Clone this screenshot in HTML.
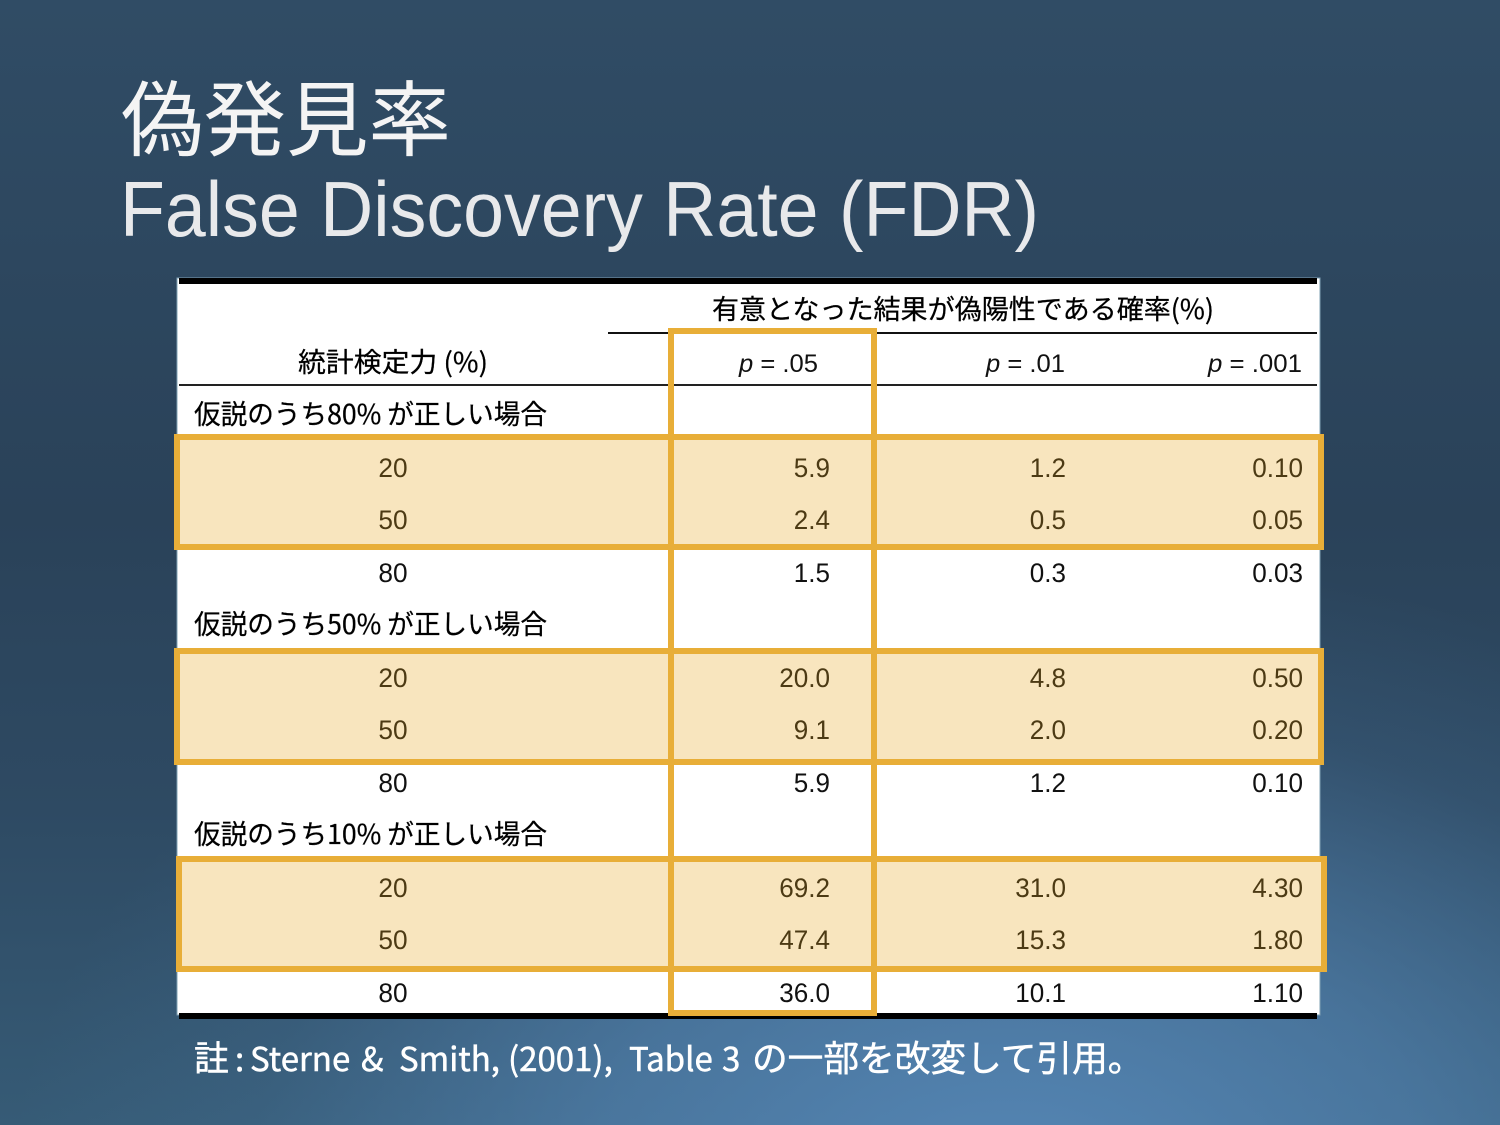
<!DOCTYPE html>
<html lang="ja">
<head>
<meta charset="utf-8">
<title>偽発見率 False Discovery Rate (FDR)</title>
<style>
html,body{margin:0;padding:0;width:1500px;height:1125px;overflow:hidden;background:#2f4c65;}
#slide{position:absolute;left:0;top:0;width:1500px;height:1125px;background:
  radial-gradient(ellipse 1000px 640px at 1010px 1185px,rgba(85,134,181,1) 0%,rgba(85,134,181,.62) 42%,rgba(85,134,181,.14) 76%,rgba(85,134,181,0) 100%),
  linear-gradient(180deg,#304c65 0%,#2a4259 46%,#2e4a63 72%,#365b76 100%);}
svg{position:absolute;left:0;top:0;}
text{font-family:"Liberation Sans","Noto Sans CJK JP",sans-serif;}
.jp{font-family:"Noto Sans CJK JP","Liberation Sans",sans-serif;}
</style>
</head>
<body>
<div id="slide">
<svg id="chart" width="1500" height="1125" viewBox="0 0 1500 1125" xmlns="http://www.w3.org/2000/svg">
  <text class="jp" x="121" y="149" font-size="82" fill="#f4f4f4" textLength="330" lengthAdjust="spacingAndGlyphs">偽発見率</text>
  <text x="120" y="236" font-size="78" fill="#e8e9eb" textLength="919" lengthAdjust="spacingAndGlyphs">False Discovery Rate (FDR)</text>

  <rect x="177" y="278" width="1143" height="737" fill="#ffffff" stroke="#7fa0b3" stroke-width="1"/>
  <rect x="179" y="278" width="1138" height="6" fill="#000000"/>
  <rect x="179" y="1013" width="1138" height="6" fill="#000000"/>
  <rect x="608" y="332" width="709" height="2" fill="#111111"/>
  <rect x="179" y="384" width="1138" height="2" fill="#222222"/>

  <rect x="177" y="437" width="1144" height="110" fill="#f8e5be"/>
  <rect x="177" y="651" width="1144" height="111" fill="#f8e5be"/>
  <rect x="179" y="859" width="1145" height="110" fill="#f8e5be"/>

  <text class="jp" x="712" y="319" font-size="27" fill="#000" stroke="#000" stroke-width="0.25" textLength="502" lengthAdjust="spacingAndGlyphs">有意となった結果が偽陽性である確率(%)</text>
  <text class="jp" x="298" y="372" font-size="27" fill="#000" stroke="#000" stroke-width="0.25" textLength="190" lengthAdjust="spacingAndGlyphs">統計検定力 (%)</text>
  <text x="818" y="372" font-size="25" fill="#111" text-anchor="end" textLength="79" lengthAdjust="spacingAndGlyphs"><tspan font-style="italic">p</tspan> = .05</text>
  <text x="1065" y="372" font-size="25" fill="#111" text-anchor="end" textLength="79" lengthAdjust="spacingAndGlyphs"><tspan font-style="italic">p</tspan> = .01</text>
  <text x="1302" y="372" font-size="25" fill="#111" text-anchor="end" textLength="94" lengthAdjust="spacingAndGlyphs"><tspan font-style="italic">p</tspan> = .001</text>

  <g id="rows"></g>

  <rect x="177" y="437" width="1144" height="110" fill="none" stroke="#e8ae38" stroke-width="6"/>
  <rect x="177" y="651" width="1144" height="111" fill="none" stroke="#e8ae38" stroke-width="6"/>
  <rect x="179" y="859" width="1145" height="110" fill="none" stroke="#e8ae38" stroke-width="6"/>
  <rect x="671" y="331" width="203" height="682" fill="none" stroke="#e8ae38" stroke-width="6"/>

  <text class="jp" y="1071" font-size="33" fill="#ffffff" stroke="#ffffff" stroke-width="0.5"><tspan x="194" font-size="35">註</tspan><tspan x="235">:</tspan><tspan x="250">Sterne</tspan><tspan x="361">&amp;</tspan><tspan x="399">Smith,</tspan><tspan x="508">(2001),</tspan><tspan x="629">Table</tspan><tspan x="722">3</tspan><tspan x="752" font-size="35.7">の一部を改変して引用。</tspan></text>
</svg>
</div>
<script>
var groupLabels = ["仮説のうち80% が正しい場合", "仮説のうち50% が正しい場合", "仮説のうち10% が正しい場合"];
var powerLevels = ["20", "50", "80"];
var fdrP05 = [["5.9", "2.4", "1.5"], ["20.0", "9.1", "5.9"], ["69.2", "47.4", "36.0"]];
var fdrP01 = [["1.2", "0.5", "0.3"], ["4.8", "2.0", "1.2"], ["31.0", "15.3", "10.1"]];
var fdrP001 = [["0.10", "0.05", "0.03"], ["0.50", "0.20", "0.10"], ["4.30", "1.80", "1.10"]];

var NS = "http://www.w3.org/2000/svg";
var rowsLayer = document.getElementById("rows");

function groupBaseline(g) { return 424 + g * 210; }
function rowBaseline(g, r) { return groupBaseline(g) + 53 + Math.floor(r * 52.5); }

function addText(str, x, y, anchor, fill, size, cls, width) {
  var el = document.createElementNS(NS, "text");
  el.setAttribute("x", x);
  el.setAttribute("y", y);
  el.setAttribute("text-anchor", anchor);
  el.setAttribute("fill", fill);
  el.setAttribute("font-size", size);
  if (cls) el.setAttribute("class", cls);
  if (width) {
    el.setAttribute("textLength", width);
    el.setAttribute("lengthAdjust", "spacingAndGlyphs");
  }
  el.textContent = str;
  rowsLayer.appendChild(el);
  return el;
}

function numWidth(str) {
  var w = 0;
  for (var i = 0; i < str.length; i++) w += str[i] === "." ? 7 : 14.6;
  return w;
}

groupLabels.forEach(function (label, g) {
  var head = addText(label, 194, groupBaseline(g), "start", "#000", 27, "jp", 353);
  head.setAttribute("stroke", "#000");
  head.setAttribute("stroke-width", "0.25");
  
  
  powerLevels.forEach(function (power, r) {
    var ink = r < 2 ? "#4c3a14" : "#111";
    var p = addText(power, 393, rowBaseline(g, r), "middle", ink, 26.5, "", numWidth(power));
    
    
    var a = addText(fdrP05[g][r], 830, rowBaseline(g, r), "end", ink, 26.5, "", numWidth(fdrP05[g][r]));
    
    
    var b = addText(fdrP01[g][r], 1066, rowBaseline(g, r), "end", ink, 26.5, "", numWidth(fdrP01[g][r]));
    
    
    var c = addText(fdrP001[g][r], 1303, rowBaseline(g, r), "end", ink, 26.5, "", numWidth(fdrP001[g][r]));
    
    
  });
});
</script>
</body>
</html>
